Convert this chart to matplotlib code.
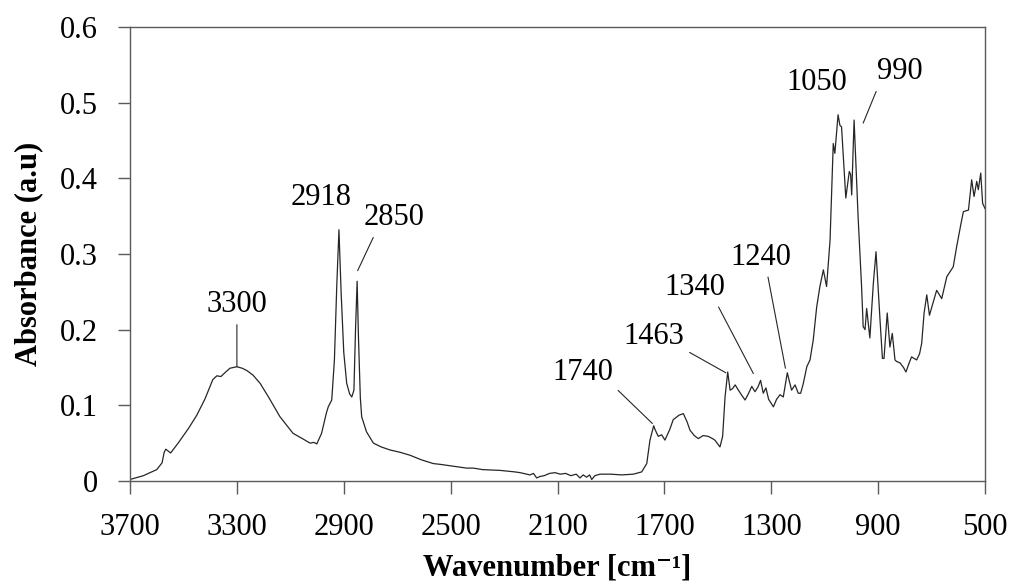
import numpy as np
import matplotlib.pyplot as plt
from matplotlib.ticker import FuncFormatter

plt.rcParams['font.family'] = ['Liberation Serif', 'DejaVu Serif']

# FTIR spectrum: wavenumber (cm-1) and absorbance
wavenumber = [
    3700, 3650, 3600, 3580, 3572, 3566, 3548, 3520, 3480, 3450,
    3420, 3390, 3375, 3360, 3345, 3326, 3300, 3280, 3263, 3240,
    3213, 3180, 3139, 3090, 3050, 3026, 3012, 3001, 2983, 2965,
    2958, 2945, 2935, 2926, 2918, 2910, 2900, 2889, 2878, 2870,
    2862, 2856, 2850, 2845, 2838, 2833, 2815, 2789, 2760, 2727,
    2690, 2652, 2610, 2565, 2540, 2500, 2440, 2415, 2380, 2315,
    2260, 2240, 2215, 2203, 2190, 2178, 2165, 2150, 2130, 2109,
    2090, 2070, 2050, 2030, 2016, 2004, 1991, 1980, 1972, 1960,
    1941, 1900, 1860, 1816, 1785, 1766, 1754, 1740, 1735, 1723,
    1710, 1698, 1680, 1667, 1645, 1629, 1615, 1604, 1588, 1573,
    1555, 1536, 1520, 1511, 1492, 1482, 1473, 1463, 1454, 1445,
    1435, 1423, 1410, 1398, 1386, 1373, 1361, 1350, 1340, 1330,
    1320, 1310, 1292, 1280, 1267, 1255, 1240, 1224, 1211, 1199,
    1190, 1180, 1167, 1155, 1143, 1130, 1118, 1105, 1093, 1080,
    1068, 1062, 1050, 1043, 1037, 1021, 1008, 1003, 999, 990,
    975, 962, 956, 949, 943, 931, 918, 908, 893, 884,
    878, 866, 856, 847, 837, 831, 818, 805, 796, 785,
    775, 756, 745, 737, 728, 718, 708, 695, 681, 662,
    643, 619, 606, 590, 581, 562, 550, 541, 531, 525,
    516, 509, 500,
]
absorbance = [
    0.002, 0.007, 0.015, 0.024, 0.038, 0.042, 0.037, 0.050, 0.070, 0.087,
    0.108, 0.134, 0.139, 0.138, 0.143, 0.149, 0.151, 0.149, 0.146, 0.140,
    0.129, 0.110, 0.085, 0.063, 0.055, 0.050, 0.051, 0.049, 0.063, 0.090,
    0.098, 0.107, 0.160, 0.260, 0.332, 0.250, 0.170, 0.129, 0.115, 0.111,
    0.120, 0.200, 0.264, 0.190, 0.110, 0.085, 0.065, 0.050, 0.045, 0.041,
    0.038, 0.034, 0.028, 0.023, 0.022, 0.020, 0.017, 0.017, 0.015, 0.014,
    0.012, 0.011, 0.009, 0.008, 0.010, 0.004, 0.006, 0.007, 0.010, 0.011,
    0.009, 0.010, 0.007, 0.009, 0.004, 0.008, 0.005, 0.008, 0.002, 0.007,
    0.009, 0.009, 0.008, 0.009, 0.012, 0.023, 0.054, 0.073, 0.068, 0.059,
    0.061, 0.054, 0.068, 0.081, 0.087, 0.089, 0.078, 0.067, 0.060, 0.056,
    0.060, 0.059, 0.056, 0.054, 0.045, 0.059, 0.111, 0.144, 0.120, 0.122,
    0.127, 0.120, 0.113, 0.107, 0.115, 0.125, 0.118, 0.124, 0.133, 0.116,
    0.123, 0.108, 0.098, 0.108, 0.114, 0.111, 0.143, 0.120, 0.127, 0.116,
    0.116, 0.129, 0.151, 0.160, 0.186, 0.230, 0.257, 0.279, 0.257, 0.318,
    0.446, 0.433, 0.484, 0.470, 0.468, 0.374, 0.409, 0.405, 0.378, 0.477,
    0.349, 0.257, 0.204, 0.200, 0.228, 0.189, 0.261, 0.303, 0.213, 0.162,
    0.162, 0.222, 0.177, 0.195, 0.160, 0.158, 0.156, 0.150, 0.144, 0.155,
    0.164, 0.160, 0.168, 0.182, 0.222, 0.246, 0.219, 0.235, 0.252, 0.241,
    0.270, 0.283, 0.310, 0.340, 0.356, 0.358, 0.398, 0.376, 0.396, 0.385,
    0.407, 0.367, 0.360,
]

# band labels: text, text position (x, y), leader end (x, y) or None,
# and where on the text box the leader starts
peak_labels = ['3300', '2918', '2850', '1740', '1463', '1340', '1240', '1050', '990']
label_xy = [(3300, 0.233), (2985, 0.374), (2712, 0.348), (2005, 0.143),
            (1739, 0.191), (1585, 0.256), (1339, 0.296), (1130, 0.526),
            (818, 0.541)]
leader_end = [(3300, 0.151), None, (2848, 0.278), (1745, 0.076),
              (1470, 0.143), (1367, 0.142), (1247, 0.149), None,
              (956, 0.473)]
leader_start = [(0.5, 0.0), None, (0.2, 0.0), (1.0, 0.05), (1.0, 0.05),
                (0.84, 0.0), (0.6, 0.0), None, (0.05, 0.1)]

xticks = [3700, 3300, 2900, 2500, 2100, 1700, 1300, 900, 500]
yticks = [0, 0.1, 0.2, 0.3, 0.4, 0.5, 0.6]

fig = plt.figure(figsize=(10.11, 5.83), dpi=100)
ax = fig.add_axes([0.1286, 0.175, 0.8457, 0.7787])

ax.plot(wavenumber, absorbance, color='#262626', lw=0.9)

for text, pos, end, rel in zip(peak_labels, label_xy, leader_end, leader_start):
    if end is None:
        ax.text(pos[0], pos[1], text, fontsize=22, ha='center', va='center')
    else:
        ax.annotate(text, xy=end, xytext=pos, fontsize=22,
                    ha='center', va='center',
                    arrowprops=dict(arrowstyle='-', color='#262626', lw=0.8,
                                    relpos=rel, shrinkA=2, shrinkB=0))

ax.set_xlim(3700, 500)
ax.set_ylim(0, 0.6)
ax.set_xticks(xticks)
ax.set_yticks(yticks)
ax.yaxis.set_major_formatter(FuncFormatter(lambda v, p: '0' if v == 0 else f'{v:.1f}'))

for s in ax.spines.values():
    s.set_color('#5a5a5a')
    s.set_linewidth(1.0)
ax.tick_params(direction='out', length=9, width=1.0, color='#5a5a5a',
               labelsize=22, pad=14)

ax.set_xlabel('Wavenumber [cm⁻¹]', fontsize=22, fontweight='bold', labelpad=8)
ax.set_ylabel('Absorbance (a.u)', fontsize=22, fontweight='bold', labelpad=12)

fig.savefig('out.png', dpi=100)
